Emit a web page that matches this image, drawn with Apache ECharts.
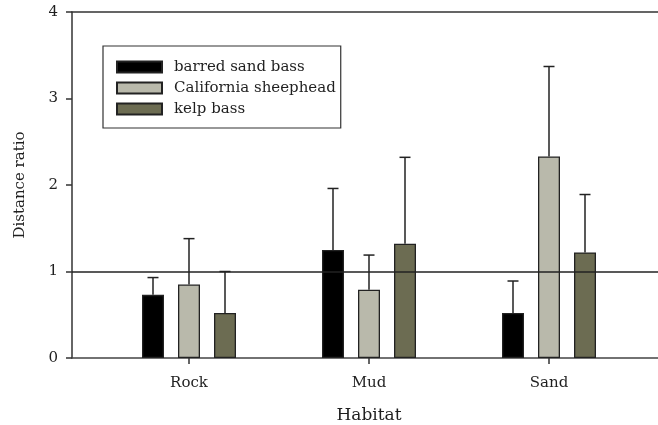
<!DOCTYPE html>
<html>
<head>
<meta charset="utf-8">
<script src="https://cdn.jsdelivr.net/npm/echarts@6/dist/echarts.min.js"></script>
<style>
  html, body { margin: 0; padding: 0; background: #fff; }
  #chart { width: 658px; height: 425px; }
</style>
</head>
<body>
<div id="chart"></div>
<script>
// Habitat categories along the x axis
const habitats = ['Rock', 'Mud', 'Sand'];
// Species names (legend order)
const speciesNames = ['barred sand bass', 'California sheephead', 'kelp bass'];
// Mean distance ratio per habitat
const barredSandBass = [0.73, 1.25, 0.52];
const californiaSheephead = [0.85, 0.79, 2.33];
const kelpBass = [0.52, 1.32, 1.22];
// Upper end of each error bar
const barredSandBassUpper = [0.93, 1.96, 0.89];
const californiaSheepheadUpper = [1.38, 1.19, 3.37];
const kelpBassUpper = [1.00, 2.32, 1.89];
// y axis ticks
const yTicks = [0, 1, 2, 3, 4];
const referenceLevel = 1;

const FONT = '"DejaVu Serif", "Liberation Serif", serif';
const TEXT = '#1f1f1f';
const colors = ['#000000', '#b9b9ab', '#6c6c52'];
const BAR_W = 22;
const BAR_GAP = 14;

const means = [barredSandBass, californiaSheephead, kelpBass];
const uppers = [barredSandBassUpper, californiaSheepheadUpper, kelpBassUpper];

const chart = echarts.init(document.getElementById('chart'), null, { renderer: 'canvas' });

const barSeries = speciesNames.map((name, i) => ({
  name: name,
  type: 'bar',
  xAxisIndex: 0,
  yAxisIndex: 0,
  barWidth: BAR_W,
  barGap: (BAR_GAP / BAR_W * 100) + '%',
  itemStyle: { color: colors[i], borderColor: '#222', borderWidth: 1.3 },
  data: means[i],
  z: 2
}));

// upper whiskers with a short cap, centred on each bar
const errorSeries = speciesNames.map((name, i) => ({
  type: 'custom',
  xAxisIndex: 0,
  yAxisIndex: 0,
  silent: true,
  z: 3,
  data: habitats.map((h, j) => [j, means[i][j], uppers[i][j]]),
  renderItem: function (params, api) {
    const offset = (i - 1) * (BAR_W + BAR_GAP);
    const base = api.coord([api.value(0), api.value(1)]);
    const top = api.coord([api.value(0), api.value(2)]);
    const x = base[0] + offset;
    const cap = 5.5;
    const style = { stroke: '#222', lineWidth: 1.5 };
    return {
      type: 'group',
      children: [
        { type: 'line', shape: { x1: x, y1: base[1], x2: x, y2: top[1] }, style: style },
        { type: 'line', shape: { x1: x - cap, y1: top[1], x2: x + cap, y2: top[1] }, style: style }
      ]
    };
  }
}));

const option = {
  backgroundColor: '#fff',
  animation: false,
  grid: [
    { left: 99, right: 19, top: 12, bottom: 67, outerBoundsMode: 'none', containLabel: false },
    { left: 72, right: 0, top: 12, bottom: 67, outerBoundsMode: 'none', containLabel: false }
  ],
  legend: {
    orient: 'vertical',
    left: 103,
    top: 46,
    padding: [13, 5, 11, 13],
    itemWidth: 45,
    itemHeight: 11,
    itemGap: 5,
    borderColor: '#333',
    borderWidth: 1.2,
    icon: 'rect',
    data: speciesNames,
    textStyle: { fontFamily: FONT, fontSize: 15, lineHeight: 16, color: TEXT, padding: [0, 0, 0, 7] }
  },
  xAxis: [
    {
      type: 'category',
      gridIndex: 0,
      data: habitats,
      axisLine: { show: false },
      axisTick: { show: true, alignWithLabel: true, length: 6, lineStyle: { color: '#333', width: 1.5 } },
      axisLabel: { fontFamily: FONT, fontSize: 15, color: TEXT, margin: 18 },
      name: 'Habitat',
      nameLocation: 'middle',
      nameGap: 49,
      nameTextStyle: { fontFamily: FONT, fontSize: 17, color: TEXT }
    },
    {
      type: 'value',
      gridIndex: 1,
      position: 'bottom',
      min: 0, max: 1,
      axisLine: { show: true, lineStyle: { color: '#444', width: 1.5 } },
      axisTick: { show: false },
      axisLabel: { show: false },
      splitLine: { show: false }
    },
    {
      type: 'value',
      gridIndex: 1,
      position: 'top',
      min: 0, max: 1,
      axisLine: { show: true, lineStyle: { color: '#333', width: 1.5 } },
      axisTick: { show: false },
      axisLabel: { show: false },
      splitLine: { show: false }
    }
  ],
  yAxis: [
    {
      type: 'value',
      gridIndex: 0,
      min: yTicks[0], max: yTicks[yTicks.length - 1],
      show: false
    },
    {
      type: 'value',
      gridIndex: 1,
      min: yTicks[0], max: yTicks[yTicks.length - 1],
      interval: 1,
      axisLine: { show: true, lineStyle: { color: '#333', width: 1.5 } },
      axisTick: { show: true, inside: false, length: 6, lineStyle: { color: '#333', width: 1.5 } },
      axisLabel: { fontFamily: FONT, fontSize: 15, color: TEXT, margin: 14 },
      splitLine: { show: false },
      name: 'Distance ratio',
      nameLocation: 'middle',
      nameGap: 44,
      nameTextStyle: { fontFamily: FONT, fontSize: 15, color: TEXT }
    }
  ],
  series: [
    ...barSeries,
    ...errorSeries,
    {
      type: 'line',
      xAxisIndex: 1,
      yAxisIndex: 1,
      data: [],
      silent: true,
      z: 10,
      markLine: {
        silent: true,
        symbol: 'none',
        label: { show: false },
        lineStyle: { color: '#222', width: 1.5, type: 'solid' },
        data: [{ yAxis: referenceLevel }],
        z: 10
      }
    }
  ]
};

chart.setOption(option);
</script>
</body>
</html>
